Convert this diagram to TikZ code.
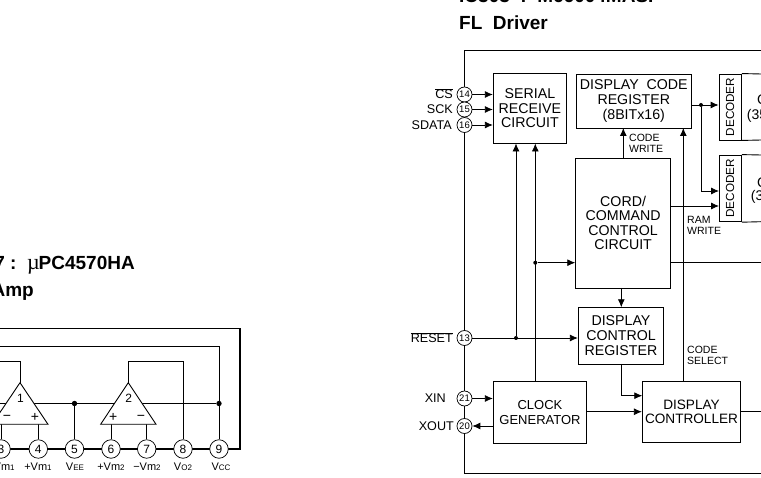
\documentclass[tikz,border=0pt]{standalone}
\usepackage{fontspec}
\setmainfont{Liberation Sans}
\newfontfamily\serifmu{Liberation Serif}
\usetikzlibrary{positioning, arrows.meta}
\newcommand{\pinsub}[2]{{\fontsize{11}{11}\selectfont #1}{\fontsize{8}{8}\selectfont #2}}

\begin{document}
\begin{tikzpicture}[x=1pt, y=-1pt, >={Latex[length=8pt,width=7pt]},
  block/.style={draw, line width=0.9pt, align=center, inner sep=0pt, font=\fontsize{14.2}{14.6}\selectfont},
  pinA/.style={draw, circle, fill=white, line width=0.7pt, inner sep=0pt, minimum size=18.5pt, font=\fontsize{12}{12}\selectfont},
  pinB/.style={draw, circle, fill=white, line width=0.7pt, inner sep=0pt, minimum size=15pt, font=\fontsize{9.5}{9.5}\selectfont},
  dotA/.style={circle, fill=black, inner sep=0pt, minimum size=5.4pt},
  dotB/.style={circle, fill=black, inner sep=0pt, minimum size=4pt},
  wire/.style={line width=0.8pt},
  frame/.style={line width=1.2pt},
  title/.style={inner sep=0pt, font=\fontsize{19}{19}\selectfont\bfseries},
  pinlabel/.style={inner sep=0pt, anchor=base east, font=\fontsize{12.6}{12.6}\selectfont},
  note/.style={inner sep=0pt, anchor=west, align=left, font=\fontsize{10.5}{10.8}\selectfont},
  ampnum/.style={inner sep=0pt, font=\fontsize{12}{12}\selectfont}
]
  \useasboundingbox (0,0) rectangle (761,478);

  % Titles
  \node[title, anchor=base west] (ttop) at (459,3) {IC303\ \ :\ \ M66004MASP};
  \node[title, anchor=base west] (tfl) at (459,29.5) {FL\ \ Driver};
  \node[title, anchor=base east] (tpc) at (135,270) {7\ :\ \ {\fontsize{22}{22}\mdseries\serifmu µ}\kern-1pt PC4570HA};
  \node[title, anchor=base east] (tamp) at (34,296.7) {Amp};

  % Op amp package, left
  \coordinate (ltop) at (0,328.5);
  \coordinate (ltr) at (240,328.5);
  \coordinate (lbr) at (240,449);
  \coordinate (lbot) at (0,449);
  \coordinate (lsup) at (0,346.7);
  \coordinate (lout) at (0,361.7);
  \coordinate (lrail) at (0,403.5);
  \coordinate (op1) at (20,382.7);
  \coordinate (op2) at (128.3,382.7);

  \draw[frame] (ltop) -- (ltr) -- (lbr) -- (lbot);

  \node[pinA] (p3) at (1,449) {3};
  \node[pinA] (p4) at (38.3,449) {4};
  \node[pinA] (p5) at (74.5,449) {5};
  \node[pinA] (p6) at (111,449) {6};
  \node[pinA] (p7) at (146.7,449) {7};
  \node[pinA] (p8) at (183,449) {8};
  \node[pinA] (p9) at (219,449) {9};
  \node[dotA] (j5) at (74.5,403.5) {};
  \node[dotA] (j9) at (219,403.5) {};

  \draw[wire] (lrail) -- (j5) -- (j9);
  \draw[wire] (j5) -- (p5);
  \draw[wire] (lsup) -| (p9);
  \draw[wire] (lout) -| (op1);
  \draw[wire] (op2) |- (183,361.7) -- (p8);
  \draw[wire] (p3) -- (1,424.3);
  \draw[wire] (p4) -- (38.3,424.3);
  \draw[wire] (p6) -- (111,424.3);
  \draw[wire] (p7) -- (146.7,424.3);

  \draw[wire, line width=0.9pt, fill=white] (op1) -- ++(28,41.6) -- ++(-56,0) -- cycle;
  \draw[wire, line width=0.9pt, fill=white] (op2) -- ++(27.7,41.6) -- ++(-55.4,0) -- cycle;
  \node[ampnum] (n1) at (20.5,398) {1};
  \node[ampnum] (n2) at (128.7,398) {2};
  \node[ampnum, font=\fontsize{14}{14}\selectfont] (m1) at (7,417.5) {−};
  \node[ampnum, font=\fontsize{14}{14}\selectfont] (a1) at (35,417.5) {+};
  \node[ampnum, font=\fontsize{14}{14}\selectfont] (a2) at (113.3,417.5) {+};
  \node[ampnum, font=\fontsize{14}{14}\selectfont] (m2) at (141,417.5) {−};

  \node[inner sep=0pt, anchor=base] (l3) at (1,471) {\pinsub{−Vm}{1}};
  \node[inner sep=0pt, anchor=base] (l4) at (38,471) {\pinsub{+Vm}{1}};
  \node[inner sep=0pt, anchor=base] (l5) at (75,471) {\pinsub{V}{EE}};
  \node[inner sep=0pt, anchor=base] (l6) at (111,471) {\pinsub{+Vm}{2}};
  \node[inner sep=0pt, anchor=base] (l7) at (147,471) {\pinsub{−Vm}{2}};
  \node[inner sep=0pt, anchor=base] (l8) at (183,471) {\pinsub{V}{O2}};
  \node[inner sep=0pt, anchor=base] (l9) at (221,471) {\pinsub{V}{CC}};

  % FL driver frame, right
  \coordinate (rtop) at (761,50.5);
  \coordinate (rbot) at (761,473.7);
  \draw[frame] (rtop) -- (464.5,50.5) -- (464.5,473.7) -- (rbot);

  % Blocks
  \node[block, minimum width=73.2pt, minimum height=69.7pt] (serial) at (529.9,108.2) {SERIAL\\RECEIVE\\CIRCUIT};
  \node[block, minimum width=115.7pt, minimum height=54pt] (coderegs) at (633.8,101) {DISPLAY\ \ CODE\\REGISTER\\(8BITx16)};
  \node[block, minimum width=94.8pt, minimum height=130pt] (cord) at (623.1,223) {CORD/\\COMMAND\\CONTROL\\CIRCUIT};
  \node[block, minimum width=85.4pt, minimum height=56.7pt] (ctrlreg) at (621,335.7) {DISPLAY\\CONTROL\\REGISTER};
  \node[block, minimum width=93.4pt, minimum height=62.7pt, font=\fontsize{13}{14.6}\selectfont] (clock) at (540,412.4) {CLOCK\\GENERATOR};
  \node[block, minimum width=98.4pt, minimum height=61.3pt, font=\fontsize{13.6}{14.6}\selectfont] (dispctrl) at (691.5,411.7) {DISPLAY\\CONTROLLER};

  % Decoders run past the right edge
  \node[block, minimum width=22.3pt, minimum height=66pt] (dec1) at (730.2,107) {\rotatebox{90}{\fontsize{11.7}{12}\selectfont DECODER}};
  \node[block, minimum width=22.3pt, minimum height=66.7pt] (dec2) at (730.2,188.4) {\rotatebox{90}{\fontsize{11.7}{12}\selectfont DECODER}};
  \draw[block] (dec1.north east) -- (761,74);
  \draw[block] (dec1.south east) -- (761,140);
  \draw[block] (dec2.north east) -- (761,155);
  \draw[block] (dec2.south east) -- (761,221.7);
  \node[inner sep=0pt, anchor=base west, font=\fontsize{14}{14}\selectfont] (g1a) at (757,105) {C};
  \node[inner sep=0pt, anchor=base west, font=\fontsize{14}{14}\selectfont] (g1b) at (746.7,120) {(35};
  \node[inner sep=0pt, anchor=base west, font=\fontsize{14}{14}\selectfont] (g2a) at (757,188) {C};
  \node[inner sep=0pt, anchor=base west, font=\fontsize{14}{14}\selectfont] (g2b) at (750.7,201) {(3};

  % Pins on the driver frame
  \node[pinB] (p14) at (464.5,94.5) {14};
  \node[pinB] (p15) at (464.5,109.5) {15};
  \node[pinB] (p16) at (464.5,125) {16};
  \node[pinB] (p13) at (464.5,338) {13};
  \node[pinB] (p21) at (464.5,398.5) {21};
  \node[pinB] (p20) at (464.5,426) {20};

  \node[pinlabel] (lcs) at (453,99) {$\overline{\mbox{CS}}$};
  \node[pinlabel] (lsck) at (453,114) {SCK};
  \node[pinlabel] (lsd) at (452,130) {SDATA};
  \node[pinlabel] (lres) at (453,343) {$\overline{\mbox{RESET}}$};
  \node[pinlabel] (lxin) at (446,403) {XIN};
  \node[pinlabel] (lxout) at (454,431) {XOUT};

  % Junctions
  \node[dotB] (jres) at (516,338) {};
  \node[dotB] (jclk) at (535.3,262.7) {};
  \node[dotB] (jcode) at (701,105) {};

  % Serial inputs
  \draw[wire, ->] (p14) -- (p14 -| serial.west);
  \draw[wire, ->] (p15) -- (p15 -| serial.west);
  \draw[wire, ->] (p16) -- (p16 -| serial.west);

  % Reset and clock lines
  \draw[wire, ->] (p13) -- (p13 -| ctrlreg.west);
  \draw[wire, ->] (jres) -- (jres |- serial.south);
  \draw[wire, ->] (jclk |- clock.north) -- (jclk |- serial.south);
  \draw[wire, ->] (jclk) -- (jclk -| cord.west);
  \draw[wire, ->] (p21) -- (p21 -| clock.west);
  \draw[wire, ->] (p20 -| clock.west) -- (p20);
  \draw[wire, ->] (clock.east |- dispctrl.west) -- (dispctrl.west);

  % Code register and decoders
  \draw[wire, ->] (623.3,158) -- (623.3,128);
  \node[note] (lcw) at (629,143.5) {CODE\\WRITE};
  \draw[wire, ->] (683.3,381) -- (683.3,128);
  \node[note] (lcs2) at (687,355.5) {CODE\\SELECT};
  \draw[wire, ->] (coderegs.east |- jcode) -- (jcode -| dec1.west);
  \draw[wire, ->] (jcode) |- (719,191);
  \draw[wire, ->] (670.5,206) -- (719,206);
  \node[note] (lram) at (687,225) {RAM\\WRITE};

  % Control flow
  \draw[wire, ->] (621.3,288) -- (621.3,307.3);
  \draw[wire, ->] (621.3,364) |- (642.3,395.7);

  % Lines leaving to the right
  \coordinate (rout1) at (761,262);
  \coordinate (rout2) at (761,411);
  \draw[wire] (670.5,262) -- (rout1);
  \draw[wire] (740.7,411) -- (rout2);
\end{tikzpicture}
\end{document}
